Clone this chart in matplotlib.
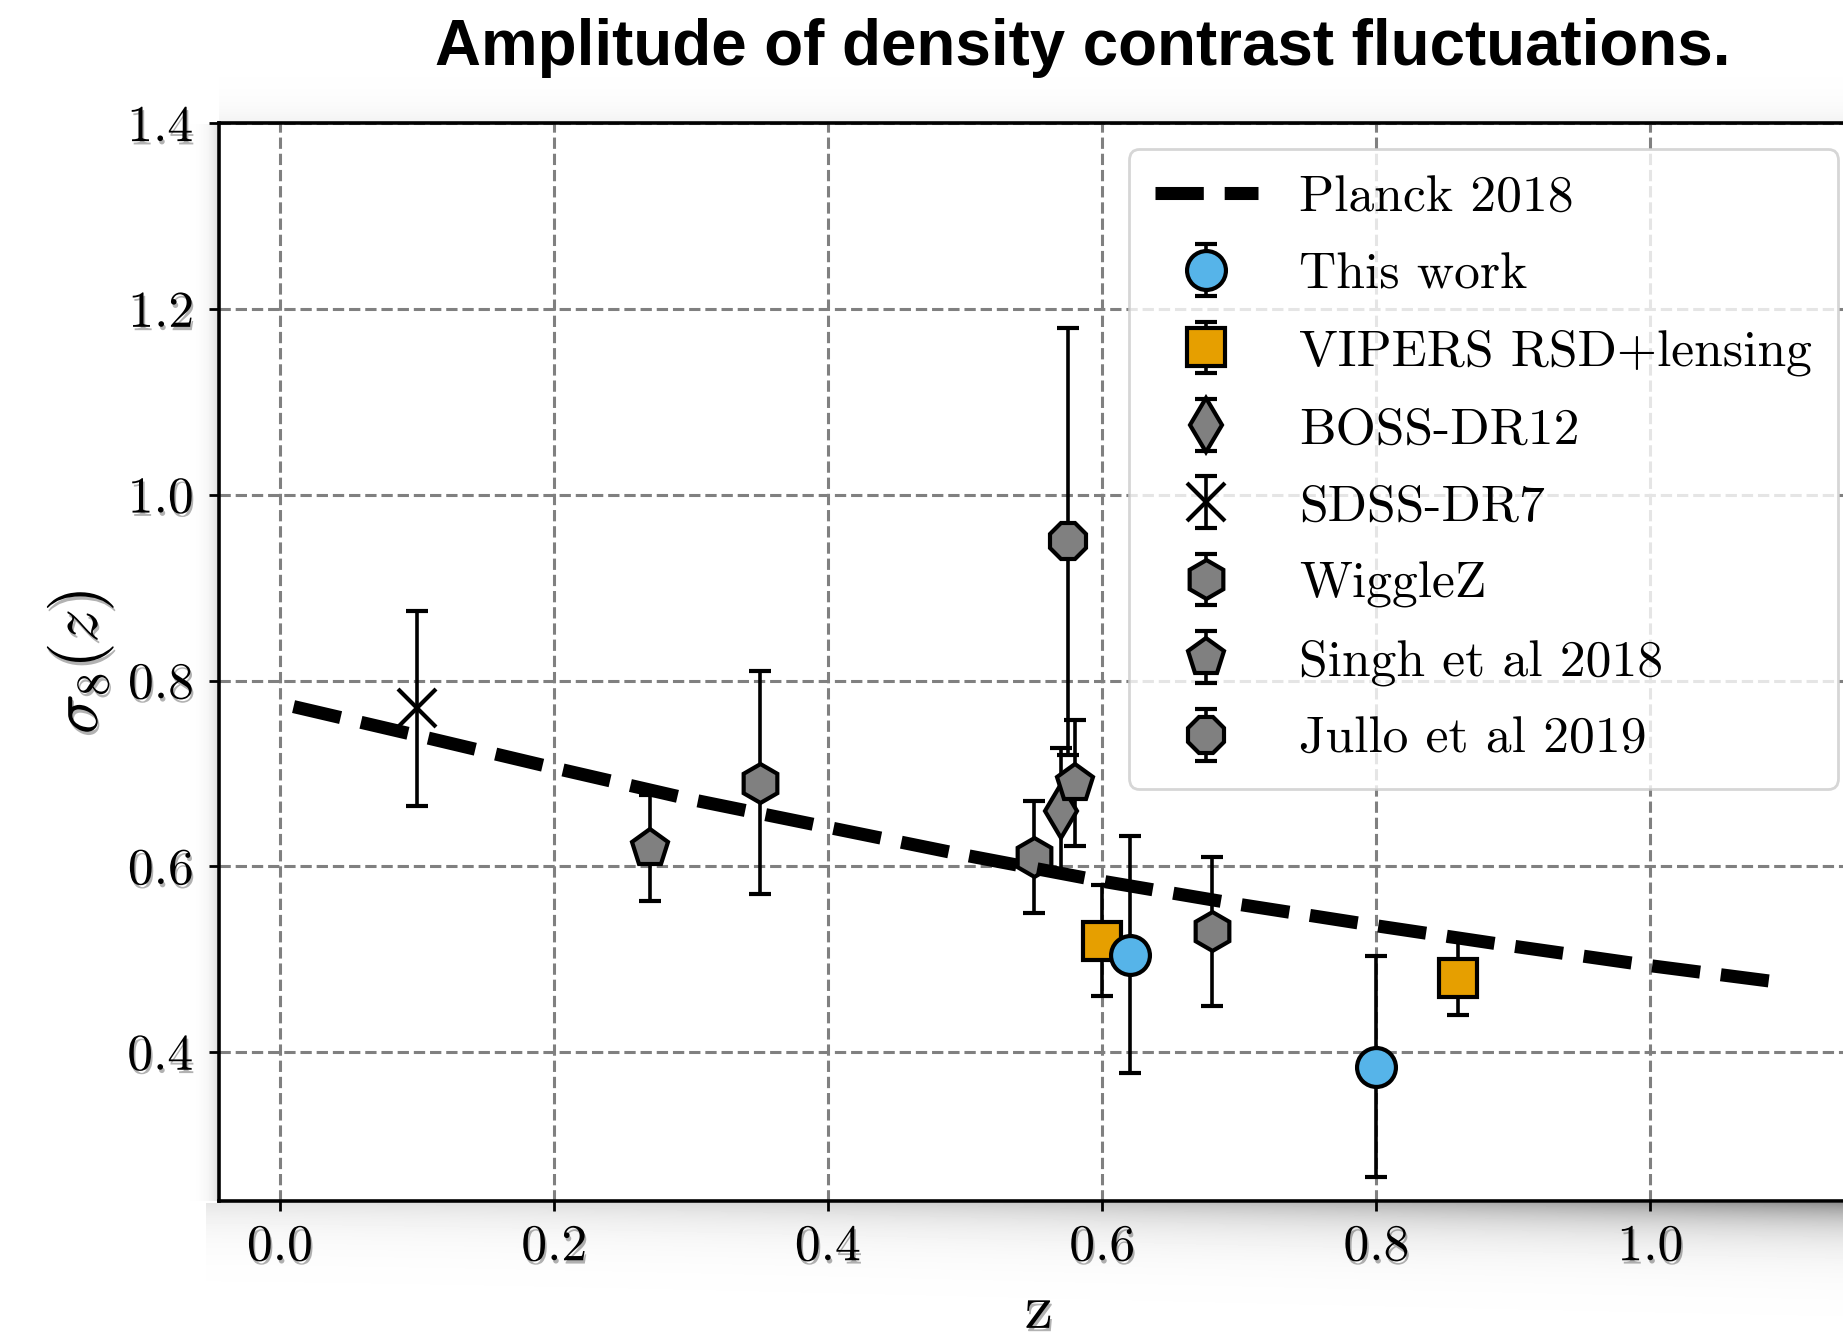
import numpy as np
import matplotlib
matplotlib.use("Agg")
import matplotlib.pyplot as plt
import matplotlib.patheffects as pe

plt.rcParams['font.family'] = 'serif'
plt.rcParams['font.serif'] = ['cmr10']
plt.rcParams['mathtext.fontset'] = 'cm'
plt.rcParams['axes.formatter.use_mathtext'] = True

# Planck 2018 curve
planck_z = [0.01, 0.10, 0.20, 0.30, 0.40, 0.50, 0.60, 0.70, 0.80, 0.90, 1.00, 1.10]
planck_s8 = [0.772, 0.741, 0.706, 0.672, 0.642, 0.612, 0.584, 0.559, 0.536, 0.514, 0.493, 0.474]

# measurements: z, sigma8(z), error
this_z = [0.62, 0.80]
this_s8 = [0.505, 0.384]
this_err = [0.128, 0.119]

vipers_z = [0.60, 0.86]
vipers_s8 = [0.52, 0.48]
vipers_err = [0.06, 0.04]

boss_z = [0.57]
boss_s8 = [0.66]
boss_err = [0.067]

sdss_z = [0.10]
sdss_s8 = [0.77]
sdss_err = [0.105]

wigglez_z = [0.35, 0.55, 0.68]
wigglez_s8 = [0.69, 0.61, 0.53]
wigglez_err = [0.12, 0.06, 0.08]

singh_z = [0.27, 0.58]
singh_s8 = [0.62, 0.69]
singh_err = [0.057, 0.068]

jullo_z = [0.575]
jullo_s8 = [0.95]
jullo_err = [0.23]

W, H, DPI = 1843, 1343, 200
fig = plt.figure(figsize=(W / DPI, H / DPI), dpi=DPI)

# soft shadow around the frame
yy, xx = np.mgrid[0:H, 0:W]
shade = np.zeros((H, W))
a = 0.10 + 0.35 * (xx / W) ** 2
shade += np.where((yy > 1202) & (xx > 205), a * np.exp(-(yy - 1202) / 24.0), 0)
shade += np.where((xx < 217) & (yy > 123) & (yy < 1201), 0.12 * np.exp(-(217 - xx) / 8.0), 0)
shade += np.where((yy < 122) & (xx > 218), 0.05 * np.exp(-(122 - yy) / 18.0), 0)
img = 1 - np.clip(shade, 0, 1)
fig.figimage(img, cmap='gray', vmin=0, vmax=1, origin='upper', zorder=-1)

ax = fig.add_axes([218.6 / W, 1 - 1201 / H, (1859 - 218.6) / W, (1201 - 123.4) / H])

ms = 14
common = dict(mec='k', mew=1.5, ecolor='k', elinewidth=1.3, capsize=4, capthick=1.3, ms=ms, ls='none')

ax.errorbar(this_z, this_s8, yerr=this_err, fmt='o', mfc='#56B4E9', label='This work', zorder=4, **common)
ax.errorbar(vipers_z, vipers_s8, yerr=vipers_err, fmt='s', mfc='#E69F00', label='VIPERS RSD+lensing', **common)
ax.errorbar(boss_z, boss_s8, yerr=boss_err, fmt='d', mfc='grey', label='BOSS-DR12', **common)
ax.errorbar(sdss_z, sdss_s8, yerr=sdss_err, fmt='x', color='k', label='SDSS-DR7', **common)
ax.errorbar(wigglez_z, wigglez_s8, yerr=wigglez_err, fmt='h', mfc='grey', label='WiggleZ', **common)
ax.errorbar(singh_z, singh_s8, yerr=singh_err, fmt='p', mfc='grey', label='Singh et al 2018', **common)
ax.errorbar(jullo_z, jullo_s8, yerr=jullo_err, fmt='8', mfc='grey', label='Jullo et al 2019', **common)

ax.plot(planck_z, planck_s8, 'k--', lw=4.7, label='Planck 2018', zorder=3)

ax.set_xlim(-0.0447, 1.1523)
ax.set_ylim(0.2396, 1.4)
ax.grid(True, ls='--', color='grey', lw=1.1)
ax.set_axisbelow(True)

for s in ax.spines.values():
    s.set_linewidth(1.3)

shadow = [pe.withSimplePatchShadow(offset=(0.6, -1.2), shadow_rgbFace='k', alpha=0.3)]
ax.tick_params(labelsize=18.6, width=1.0, length=3.5)
ax.tick_params(axis='y', pad=5.5)
ax.tick_params(axis='x', pad=5)
for lab in ax.get_xticklabels() + ax.get_yticklabels():
    lab.set_path_effects(shadow)

ax.set_xlabel('z', fontsize=23, va='top', path_effects=shadow)
ax.xaxis.set_label_coords(0.5, -0.076)
ax.set_ylabel(r'$\sigma_8(z)$', fontsize=24, path_effects=shadow)
ax.yaxis.set_label_coords(-0.0626, 0.5)

ax.legend(loc='upper right', bbox_to_anchor=(1.003, 1.0), fontsize=18.6,
          labelspacing=0.6, borderpad=0.5)

fig.text(1082.5 / W, 1 - 64.6 / H, 'Amplitude of density contrast fluctuations.',
         ha='center', va='baseline', fontsize=22.9, fontweight='bold', family='Liberation Sans')

fig.savefig('out.png', dpi=DPI)
